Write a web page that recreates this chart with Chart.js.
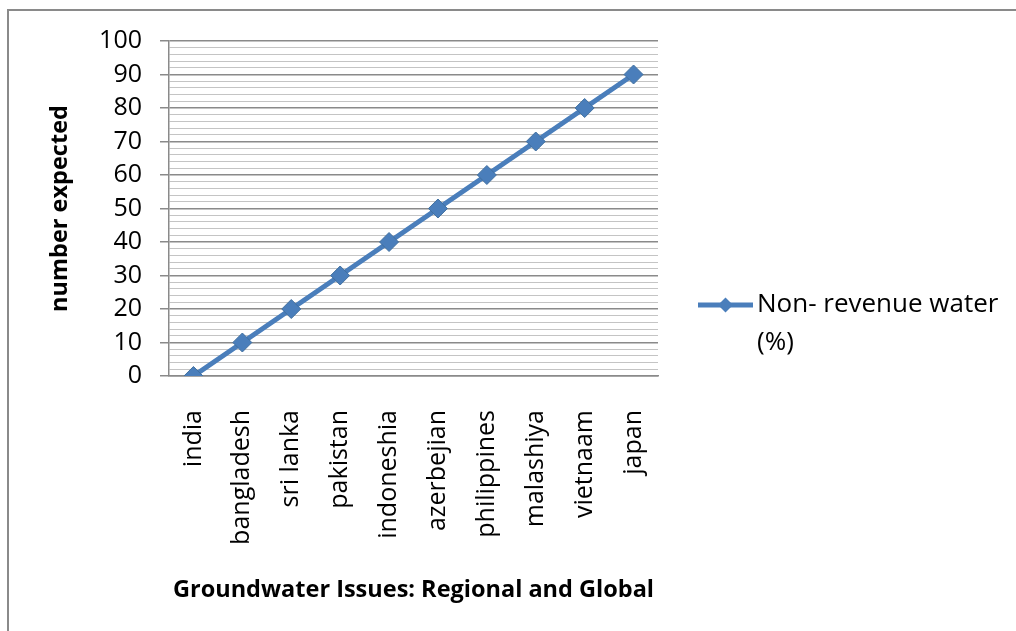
<!DOCTYPE html>
<html>
<head>
<meta charset="utf-8">
<script src="https://cdn.jsdelivr.net/npm/chart.js@4"></script>
<style>
  html, body { margin: 0; padding: 0; background: #fff; overflow: hidden; }
  #frame { position: absolute; left: 7px; top: 9px; width: 2000px; height: 2000px; border: 2px solid #8a8a8a; box-sizing: border-box; }
  #wrap { position: absolute; left: 0; top: 0; width: 1016px; height: 631px; }
</style>
</head>
<body>
<div id="frame"></div>
<div id="wrap"><canvas id="c" width="1016" height="631"></canvas></div>
<script>
const categories = ['india', 'bangladesh', 'sri lanka', 'pakistan', 'indoneshia', 'azerbejian', 'philippines', 'malashiya', 'vietnaam', 'japan'];
const seriesValues = [0, 10, 20, 30, 40, 50, 60, 70, 80, 90];
const seriesLabel = 'Non- revenue water (%)';
const yTitle = 'number expected';
const xTitle = 'Groundwater Issues: Regional and Global';
const yMin = 0, yMax = 100, yMinorStep = 2, yMajorStep = 10;

const FONT = '"Open Sans", sans-serif';
const LINE_COLOR = '#4A7EBB';

const legendPlugin = {
  id: 'sideLegend',
  afterDraw(chart) {
    const ctx = chart.ctx;
    const ds = chart.data.datasets[0];
    const ca = chart.chartArea;
    const x0 = ca.right + 40, x1 = x0 + 55, yMid = 305;
    ctx.save();
    ctx.strokeStyle = ds.borderColor;
    ctx.lineWidth = ds.borderWidth;
    ctx.beginPath(); ctx.moveTo(x0, yMid); ctx.lineTo(x1, yMid); ctx.stroke();
    ctx.fillStyle = ds.pointBackgroundColor;
    ctx.beginPath();
    const r = 7.5, cx = (x0 + x1) / 2;
    ctx.moveTo(cx, yMid - r); ctx.lineTo(cx + r, yMid); ctx.lineTo(cx, yMid + r); ctx.lineTo(cx - r, yMid); ctx.closePath();
    ctx.fill();
    ctx.font = '26px ' + FONT;
    ctx.fillStyle = '#000';
    ctx.textBaseline = 'middle';
    const maxW = chart.width - (x1 + 4) - 2;
    const words = ds.label.split(' ');
    const lines = [];
    let cur = '';
    for (const w of words) {
      const t = cur ? cur + ' ' + w : w;
      if (ctx.measureText(t).width > maxW && cur) { lines.push(cur); cur = w; } else cur = t;
    }
    if (cur) lines.push(cur);
    lines.forEach((l, i) => ctx.fillText(l, x1 + 4, yMid + i * 38));
    ctx.restore();
  }
};

new Chart(document.getElementById('c'), {
  type: 'line',
  data: {
    labels: categories,
    datasets: [{
      label: seriesLabel,
      data: seriesValues,
      borderColor: LINE_COLOR,
      backgroundColor: LINE_COLOR,
      pointBackgroundColor: LINE_COLOR,
      pointBorderColor: '#41709f',
      borderWidth: 5,
      pointStyle: 'rectRot',
      pointRadius: 9.5,
      pointBorderWidth: 1,
      tension: 0,
      fill: false
    }]
  },
  plugins: [legendPlugin],
  options: {
    responsive: false,
    animation: false,
    devicePixelRatio: 1,
    layout: { padding: { left: 8, top: 41, right: 358, bottom: 0 } },
    plugins: { legend: { display: false }, tooltip: { enabled: false } },
    scales: {
      x: {
        offset: true,
        grid: { display: false, drawTicks: false },
        border: { display: true, color: '#8a8a8a', width: 1.5 },
        ticks: { color: '#000', font: { family: FONT, size: 25 }, maxRotation: 90, minRotation: 90, padding: 34, autoSkip: false },
        title: { display: true, text: xTitle, color: '#000', font: { family: FONT, size: 23.5, weight: 'bold' }, padding: { top: 0, bottom: 27 } },
        afterFit(scale) { scale.height = 255; }
      },
      y: {
        min: yMin, max: yMax,
        grid: {
          color: c => (c.tick && c.tick.value % yMajorStep === 0) ? '#8a8a8a' : '#c4c4c4',
          lineWidth: c => (c.tick && c.tick.value % yMajorStep === 0) ? 1.5 : 1,
          tickColor: c => (c.tick && c.tick.value % yMajorStep === 0) ? '#8a8a8a' : 'rgba(0,0,0,0)',
          tickLength: 9
        },
        border: { display: true, color: '#8a8a8a', width: 1.5 },
        ticks: {
          stepSize: yMinorStep, autoSkip: false, color: '#000', padding: 18,
          font: { family: FONT, size: 25 },
          callback: v => (v % yMajorStep === 0 ? String(v) : '')
        },
        title: { display: true, text: yTitle, color: '#000', font: { family: FONT, size: 23.5, weight: 'bold' }, padding: { top: 38, bottom: 0 } },
        afterFit(scale) { scale.width = 161; }
      }
    }
  }
});
</script>
</body>
</html>
